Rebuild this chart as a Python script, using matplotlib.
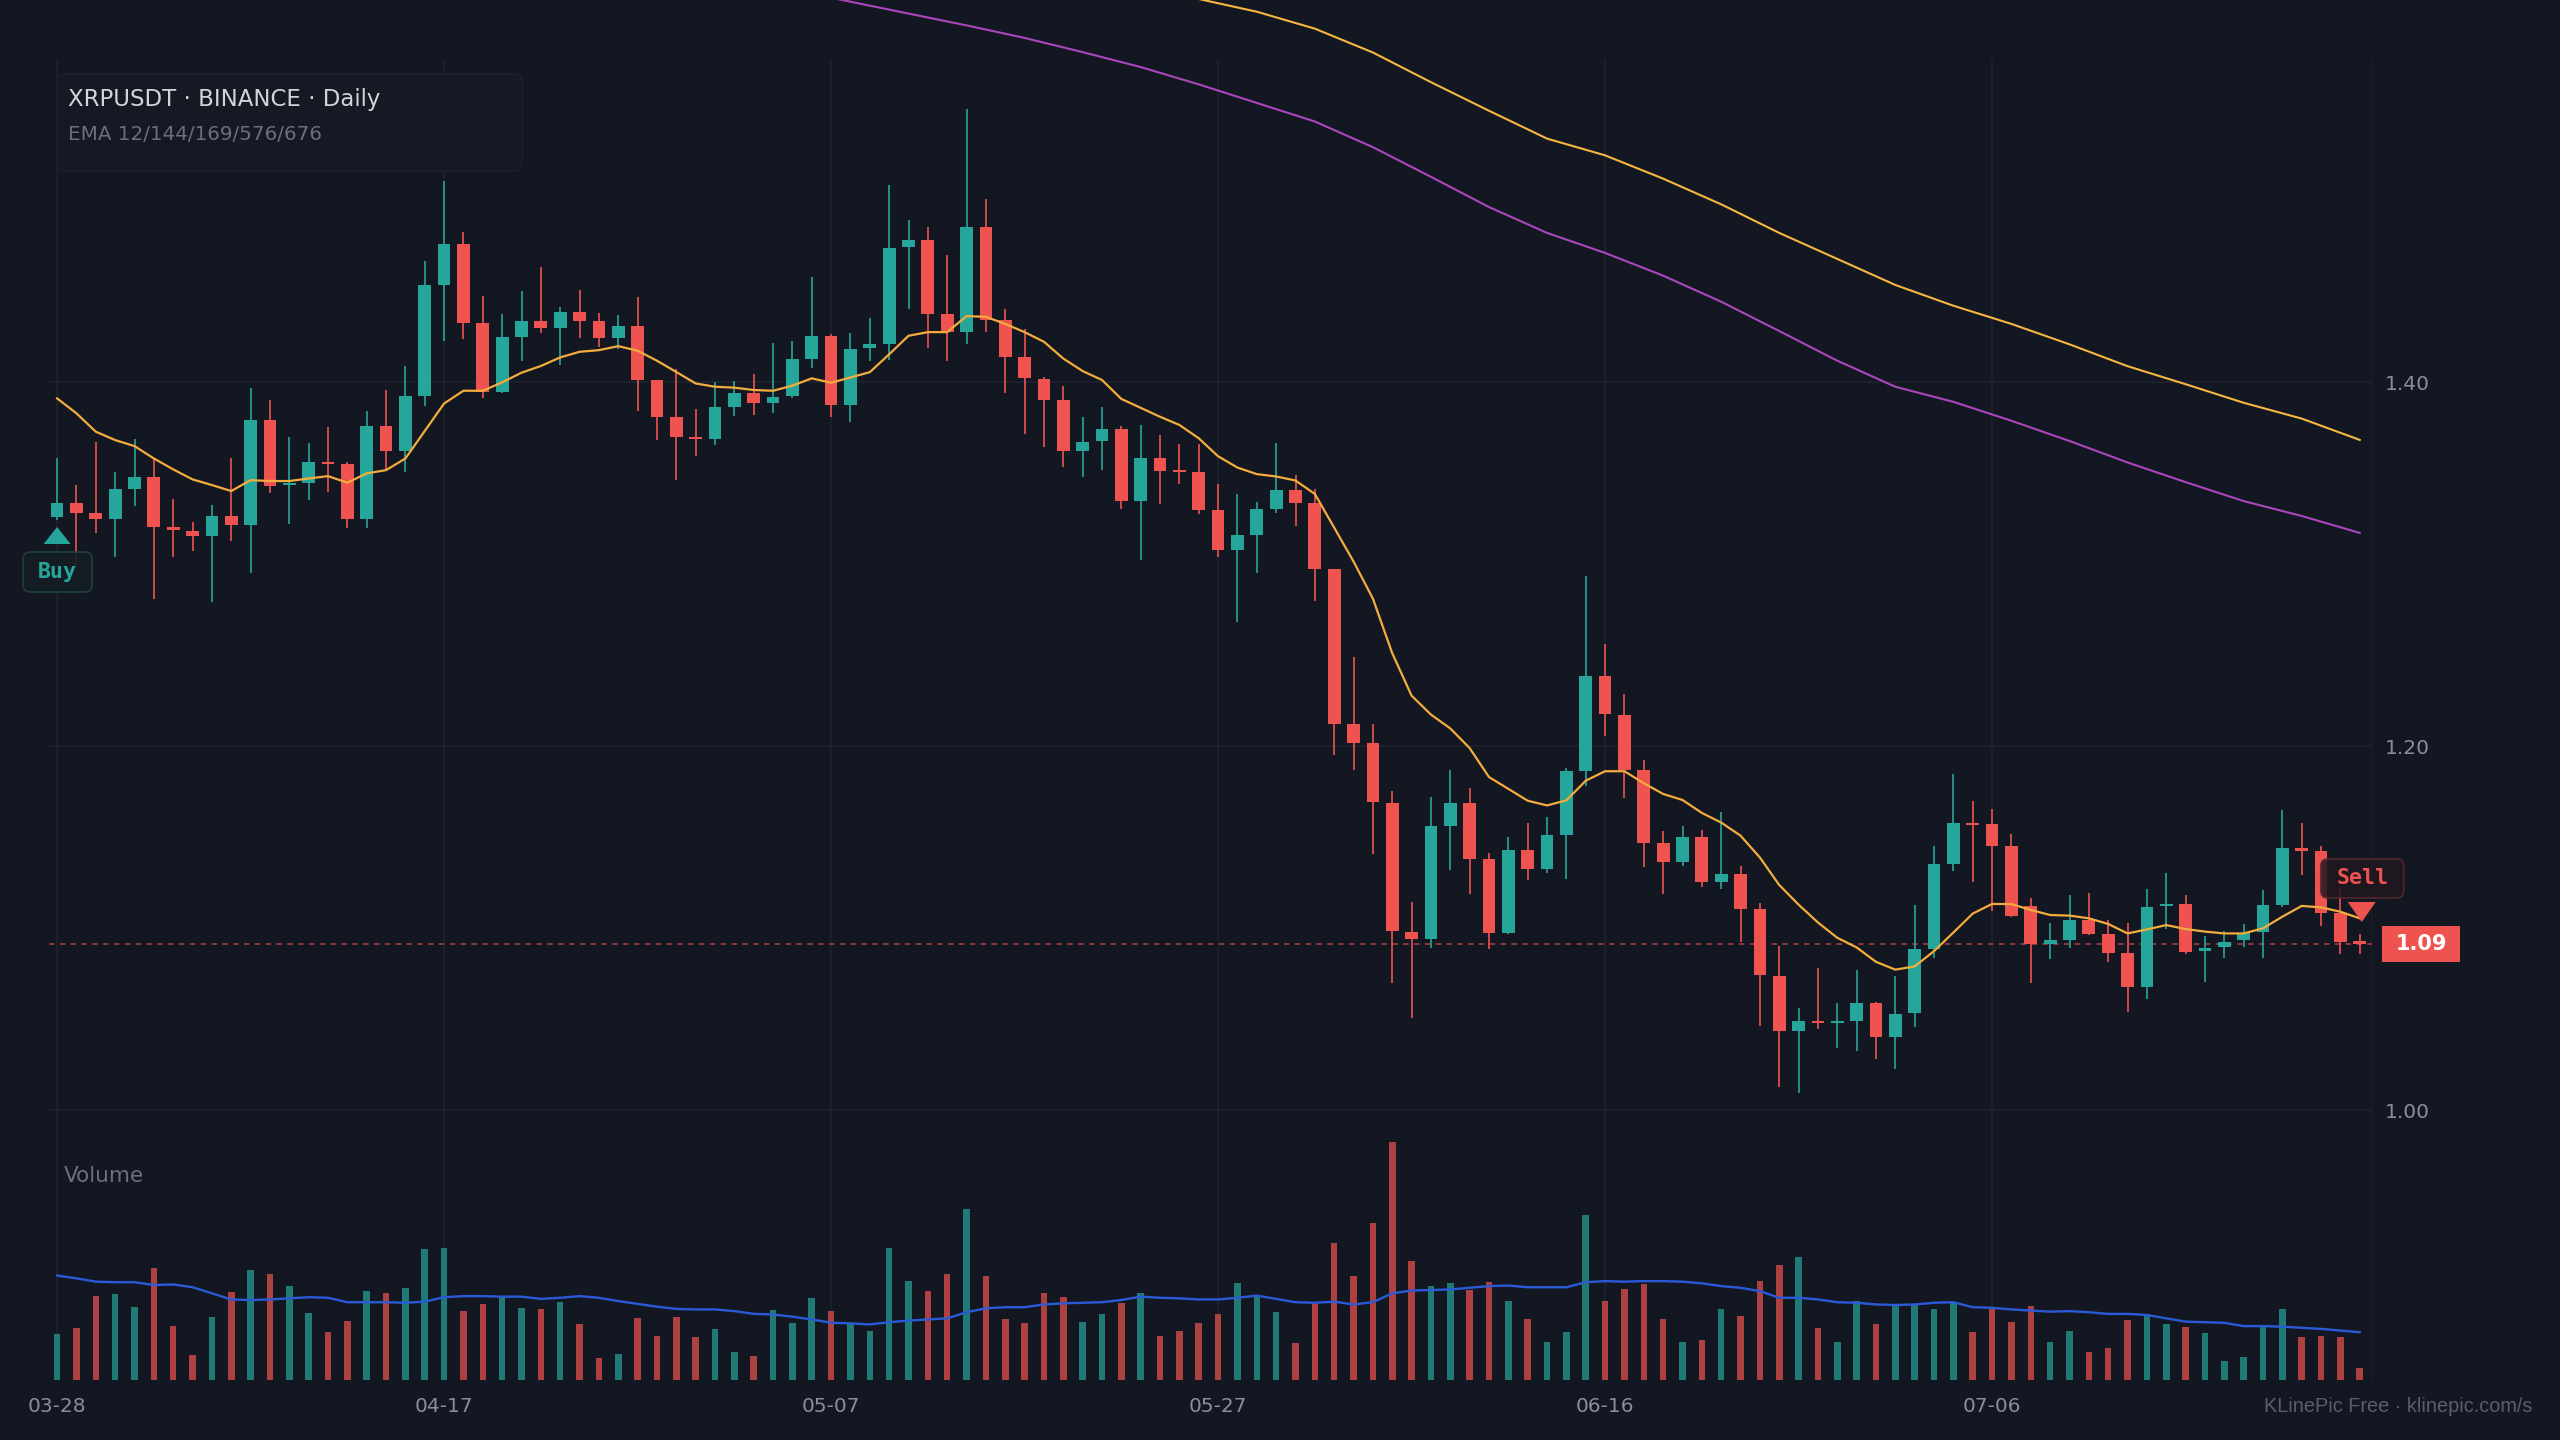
import numpy as np
import matplotlib
matplotlib.use("Agg")
import matplotlib.pyplot as plt
import matplotlib.transforms as mtransforms
from matplotlib.patches import FancyBboxPatch, Polygon, Rectangle

# ---- data (XRPUSDT daily, 03-28 .. 07-25) ----
date_labels = ["03-28", "04-17", "05-07", "05-27", "06-16", "07-06"]
date_days = [0, 20, 40, 60, 80, 100]
price_ticks = [1.00, 1.20, 1.40]

opens = [1.3260, 1.3333, 1.3278, 1.3245, 1.3412, 1.3480, 1.3201, 1.3183, 1.3156, 1.3266,
         1.3214, 1.3789, 1.3432, 1.3443, 1.3560, 1.3549, 1.3249, 1.3758, 1.3621, 1.3925,
         1.4532, 1.4758, 1.4326, 1.3947, 1.4249, 1.4335, 1.4298, 1.4386, 1.4333, 1.4241,
         1.4309, 1.4011, 1.3809, 1.3696, 1.3685, 1.3863, 1.3937, 1.3882, 1.3923, 1.4128,
         1.4251, 1.3871, 1.4188, 1.4209, 1.4741, 1.4778, 1.4372, 1.4276, 1.4853, 1.4343,
         1.4136, 1.4019, 1.3903, 1.3619, 1.3674, 1.3740, 1.3348, 1.3583, 1.3511, 1.3505,
         1.3295, 1.3079, 1.3159, 1.3303, 1.3409, 1.3333, 1.2975, 1.2119, 1.2015, 1.1689,
         1.0979, 1.0940, 1.1561, 1.1685, 1.1380, 1.0974, 1.1430, 1.1326, 1.1511, 1.1863,
         1.2384, 1.2173, 1.1869, 1.1466, 1.1363, 1.1500, 1.1253, 1.1296, 1.1104, 1.0737,
         1.0437, 1.0490, 1.0478, 1.0488, 1.0590, 1.0403, 1.0535, 1.0884, 1.1351, 1.1572,
         1.1574, 1.1453, 1.1122, 1.0911, 1.0937, 1.1047, 1.0968, 1.0862, 1.0679, 1.1123,
         1.1133, 1.0876, 1.0898, 1.0933, 1.0981, 1.1125, 1.1438, 1.1424, 1.1081, 1.0922]
highs = [1.3584, 1.3434, 1.3668, 1.3503, 1.3685, 1.3575, 1.3357, 1.3229, 1.3322, 1.3580,
         1.3965, 1.3901, 1.3698, 1.3663, 1.3754, 1.3560, 1.3840, 1.3956, 1.4087, 1.4666,
         1.5102, 1.4825, 1.4472, 1.4371, 1.4501, 1.4630, 1.4410, 1.4505, 1.4377, 1.4368,
         1.4468, 1.4011, 1.4069, 1.3850, 1.4001, 1.4005, 1.4044, 1.4212, 1.4223, 1.4575,
         1.4262, 1.4271, 1.4352, 1.5084, 1.4888, 1.4849, 1.4696, 1.5500, 1.5006, 1.4399,
         1.4293, 1.4025, 1.3980, 1.3809, 1.3864, 1.3760, 1.3764, 1.3711, 1.3658, 1.3658,
         1.3440, 1.3387, 1.3342, 1.3665, 1.3487, 1.3411, 1.2975, 1.2492, 1.2119, 1.1754,
         1.1146, 1.1721, 1.1869, 1.1771, 1.1413, 1.1500, 1.1580, 1.1613, 1.1880, 1.2933,
         1.2560, 1.2286, 1.1924, 1.1531, 1.1561, 1.1537, 1.1639, 1.1339, 1.1139, 1.0900,
         1.0560, 1.0780, 1.0590, 1.0770, 1.0596, 1.0737, 1.1125, 1.1453, 1.1845, 1.1698,
         1.1653, 1.1515, 1.1167, 1.1030, 1.1184, 1.1195, 1.1045, 1.1030, 1.1213, 1.1301,
         1.1182, 1.0959, 1.0984, 1.1021, 1.1210, 1.1649, 1.1578, 1.1451, 1.1219, 1.0968]
lows = [1.3242, 1.2978, 1.3168, 1.3040, 1.3318, 1.2806, 1.3036, 1.3071, 1.2789, 1.3126,
        1.2952, 1.3392, 1.3222, 1.3351, 1.3397, 1.3196, 1.3196, 1.3516, 1.3507, 1.3868,
        1.4227, 1.4238, 1.3910, 1.3937, 1.4117, 1.4271, 1.4093, 1.4243, 1.4190, 1.4181,
        1.3840, 1.3681, 1.3461, 1.3595, 1.3654, 1.3815, 1.3817, 1.3831, 1.3910, 1.4078,
        1.3806, 1.3782, 1.4117, 1.4123, 1.4403, 1.4188, 1.4117, 1.4211, 1.4276, 1.3942,
        1.3717, 1.3642, 1.3534, 1.3479, 1.3515, 1.3305, 1.3020, 1.3328, 1.3438, 1.3275,
        1.3038, 1.2681, 1.2951, 1.3283, 1.3211, 1.2797, 1.1950, 1.1871, 1.1409, 1.0696,
        1.0505, 1.0892, 1.1322, 1.1189, 1.0887, 1.0968, 1.1265, 1.1304, 1.1272, 1.1782,
        1.2058, 1.1717, 1.1335, 1.1188, 1.1343, 1.1227, 1.1217, 1.0923, 1.0462, 1.0125,
        1.0095, 1.0446, 1.0339, 1.0325, 1.0280, 1.0225, 1.0456, 1.0835, 1.1315, 1.1251,
        1.1096, 1.1060, 1.0697, 1.0829, 1.0893, 1.0962, 1.0814, 1.0538, 1.0613, 1.0993,
        1.0856, 1.0702, 1.0838, 1.0897, 1.0834, 1.1117, 1.1292, 1.1012, 1.0856, 1.0856]
closes = [1.3333, 1.3282, 1.3245, 1.3410, 1.3480, 1.3205, 1.3187, 1.3156, 1.3264, 1.3216,
          1.3789, 1.3430, 1.3439, 1.3558, 1.3549, 1.3249, 1.3758, 1.3621, 1.3923, 1.4532,
          1.4758, 1.4326, 1.3947, 1.4245, 1.4335, 1.4298, 1.4386, 1.4337, 1.4241, 1.4307,
          1.4011, 1.3809, 1.3696, 1.3688, 1.3861, 1.3939, 1.3882, 1.3919, 1.4128, 1.4251,
          1.3871, 1.4183, 1.4207, 1.4735, 1.4778, 1.4374, 1.4276, 1.4853, 1.4343, 1.4138,
          1.4021, 1.3903, 1.3619, 1.3672, 1.3740, 1.3348, 1.3583, 1.3513, 1.3503, 1.3295,
          1.3079, 1.3158, 1.3303, 1.3409, 1.3333, 1.2975, 1.2119, 1.2017, 1.1691, 1.0983,
          1.0940, 1.1559, 1.1685, 1.1380, 1.0974, 1.1430, 1.1326, 1.1511, 1.1863, 1.2384,
          1.2178, 1.1869, 1.1468, 1.1363, 1.1500, 1.1251, 1.1296, 1.1106, 1.0741, 1.0437,
          1.0490, 1.0478, 1.0486, 1.0590, 1.0403, 1.0531, 1.0884, 1.1351, 1.1576, 1.1565,
          1.1453, 1.1069, 1.0911, 1.0933, 1.1047, 1.0970, 1.0862, 1.0679, 1.1118, 1.1133,
          1.0871, 1.0889, 1.0926, 1.0975, 1.1125, 1.1438, 1.1426, 1.1081, 1.0922, 1.0915]

# volume in millions (no scale shown on the chart)
volumes = [82, 93, 152, 154, 132, 202, 98, 45, 113, 158,
           198, 190, 170, 121, 86, 107, 160, 156, 166, 236,
           237, 125, 137, 151, 129, 127, 140, 100, 40, 46,
           111, 80, 113, 77, 91, 50, 44, 126, 103, 148,
           125, 101, 88, 237, 179, 160, 190, 308, 187, 109,
           103, 156, 149, 104, 118, 139, 156, 80, 88, 102,
           118, 174, 152, 122, 67, 137, 246, 188, 282, 428,
           214, 170, 174, 162, 176, 143, 110, 68, 86, 297,
           143, 163, 173, 110, 68, 72, 127, 115, 179, 207,
           221, 93, 69, 143, 101, 134, 136, 128, 138, 86,
           127, 105, 134, 69, 88, 50, 58, 108, 119, 100,
           95, 84, 34, 41, 98, 128, 77, 79, 77, 22]
volume_ma = [188, 183, 177, 176, 176, 171, 172, 167, 156, 145,
             144, 145, 147, 149, 148, 140, 140, 140, 139, 141,
             149, 151, 151, 150, 150, 146, 148, 151, 148, 142,
             137, 132, 128, 127, 127, 124, 119, 118, 114, 109,
             103, 102, 100, 104, 107, 109, 111, 122, 129, 131,
             131, 136, 138, 139, 140, 144, 150, 148, 147, 145,
             145, 148, 152, 146, 140, 139, 141, 136, 140, 156,
             161, 162, 163, 166, 169, 170, 167, 167, 167, 176,
             178, 177, 178, 178, 177, 174, 169, 166, 160, 148,
             148, 145, 140, 139, 136, 135, 136, 139, 140, 131,
             130, 127, 125, 123, 124, 122, 119, 119, 117, 111,
             105, 104, 103, 97, 97, 96, 94, 92, 89, 86]

ema12 = [1.3910, 1.3828, 1.3727, 1.3681, 1.3648, 1.3580, 1.3520, 1.3465, 1.3434, 1.3401,
         1.3461, 1.3456, 1.3456, 1.3470, 1.3483, 1.3447, 1.3498, 1.3516, 1.3580, 1.3731,
         1.3882, 1.3952, 1.3952, 1.3998, 1.4051, 1.4088, 1.4135, 1.4166, 1.4175, 1.4197,
         1.4172, 1.4117, 1.4055, 1.3992, 1.3974, 1.3969, 1.3956, 1.3952, 1.3980, 1.4020,
         1.3996, 1.4025, 1.4054, 1.4152, 1.4254, 1.4274, 1.4274, 1.4362, 1.4358, 1.4319,
         1.4274, 1.4221, 1.4129, 1.4060, 1.4011, 1.3907, 1.3858, 1.3809, 1.3764, 1.3691,
         1.3592, 1.3530, 1.3494, 1.3481, 1.3459, 1.3385, 1.3200, 1.3014, 1.2810, 1.2510,
         1.2277, 1.2173, 1.2097, 1.1989, 1.1830, 1.1765, 1.1700, 1.1674, 1.1702, 1.1810,
         1.1862, 1.1862, 1.1796, 1.1737, 1.1704, 1.1633, 1.1580, 1.1508, 1.1388, 1.1237,
         1.1129, 1.1031, 1.0947, 1.0894, 1.0815, 1.0772, 1.0790, 1.0874, 1.0976, 1.1080,
         1.1133, 1.1132, 1.1100, 1.1072, 1.1069, 1.1054, 1.1023, 1.0971, 1.0993, 1.1017,
         1.0995, 1.0981, 1.0971, 1.0971, 1.0999, 1.1063, 1.1122, 1.1114, 1.1090, 1.1054]

# the two slow EMAs that come into view (read every 3 days)
ema144_days = [38, 41, 44, 47, 50, 53, 56, 59, 62, 65, 68, 71, 74, 77, 80, 83, 86, 89,
               92, 95, 98, 101, 104, 107, 110, 113, 116, 119]
ema144 = [1.6155, 1.6089, 1.6024, 1.5959, 1.5890, 1.5812, 1.5730, 1.5635, 1.5533, 1.5431,
          1.5290, 1.5127, 1.4961, 1.4819, 1.4709, 1.4584, 1.4441, 1.4280, 1.4117, 1.3974,
          1.3891, 1.3787, 1.3676, 1.3558, 1.3450, 1.3346, 1.3264, 1.3171]
ema169_days = [56, 59, 62, 65, 68, 71, 74, 77, 80, 83, 86, 89, 92, 95, 98, 101, 104,
               107, 110, 113, 116, 119]
ema169 = [1.6180, 1.6104, 1.6034, 1.5941, 1.5810, 1.5647, 1.5490, 1.5337, 1.5245, 1.5117,
          1.4976, 1.4819, 1.4676, 1.4533, 1.4419, 1.4319, 1.4207, 1.4087, 1.3988, 1.3886,
          1.3799, 1.3682]

buy_day = 0
sell_day = 119

# ---- style ----
BG = "#131722"
GRID = "#1f232e"
UP = "#26a69a"
DOWN = "#ef5350"
LABEL = "#8a8e9a"

W, H = 2560, 1440
fig = plt.figure(figsize=(25.6, 14.4), dpi=100, facecolor=BG)

left_px, right_px = 49, 2372
day0_px, step_px = 57.1, 19.35
xlim = ((left_px - day0_px) / step_px, (right_px - day0_px) / step_px)

ax = fig.add_axes([left_px / W, 1 - 1130 / H, (right_px - left_px) / W, 1130 / H])
axv = fig.add_axes([left_px / W, 60 / H, (right_px - left_px) / W, 250 / H])
for a in (ax, axv):
    a.set_facecolor("none")
    a.set_xlim(*xlim)
    for s in a.spines.values():
        s.set_visible(False)
ax.set_ylim(0.98912, 1.60984)
axv.set_ylim(0, 450)

# grid
top_frac = 1 - 61 / 1130
for d in date_days + [xlim[1]]:
    ax.axvline(d, ymin=0, ymax=top_frac, color=GRID, lw=1.2, zorder=0)
    axv.axvline(d, color=GRID, lw=1.2, zorder=0)
for p in price_ticks:
    ax.axhline(p, color=GRID, lw=1.2, zorder=0)

days = np.arange(len(closes))
o = np.array(opens)
c = np.array(closes)
up = c >= o
colors = np.where(up, UP, DOWN)

# candles
ax.vlines(days, lows, highs, colors=colors, lw=1.2, zorder=3)
body_h = np.maximum(np.abs(c - o), 0.0012)
ax.bar(days, body_h, bottom=np.minimum(o, c), width=0.66, color=colors, lw=0, zorder=4)

# EMAs
ax.plot(ema144_days, ema144, color="#ab47bc", lw=1.5, zorder=2)
ax.plot(ema169_days, ema169, color="#f6b740", lw=1.5, zorder=2)
ax.plot(days, ema12, color="#f4ac3c", lw=1.6, zorder=5)

# last price line + tag
last = closes[-1]
ax.axhline(last, color=DOWN, alpha=0.6, lw=1.3, ls=(0, (3, 3)), zorder=1)
blend = mtransforms.blended_transform_factory(ax.transAxes, ax.transData)
tag_h = 36 / 1820.5
ax.add_patch(Rectangle((1.0043, last - tag_h / 2), 78 / 2323, tag_h, transform=blend,
                       facecolor=DOWN, edgecolor="none", clip_on=False, zorder=6))
ax.text(1.0043 + 39 / 2323, last, f"{last:.2f}", transform=blend, ha="center",
        va="center", color="white", fontsize=15, fontweight="bold", zorder=7)

# price axis labels
ax.yaxis.tick_right()
ax.set_yticks(price_ticks)
ax.set_yticklabels([f"{p:.2f}" for p in price_ticks])
ax.tick_params(axis="y", length=0, pad=9, labelsize=14.5, labelcolor=LABEL)
ax.set_xticks([])

# volume
vol_colors = np.where(up, "#207b76", "#ad4142")
axv.bar(days, volumes, width=0.34, color=vol_colors, lw=0, zorder=2)
axv.plot(days, volume_ma, color="#2a5ad8", lw=1.7, zorder=3)
axv.set_yticks([])
axv.set_xticks(date_days)
axv.set_xticklabels(date_labels)
axv.tick_params(axis="x", length=0, pad=12, labelsize=14.5, labelcolor=LABEL)
fig.text(64 / W, 1 - 1182 / H, "Volume", fontsize=15.5, color="#6c707b", va="baseline")


# buy / sell markers, drawn in inches relative to the candle
def anchored(day, price):
    return fig.dpi_scale_trans + mtransforms.ScaledTranslation(day, price, ax.transData)


tb = anchored(buy_day, lows[buy_day])
ax.add_patch(Polygon([(0.0, -0.07), (-0.135, -0.24), (0.135, -0.24)], closed=True,
                     transform=tb, facecolor=UP, edgecolor="none", clip_on=False, zorder=7))
ax.add_patch(FancyBboxPatch((-0.34, -0.72), 0.69, 0.40,
                            boxstyle="round,pad=0,rounding_size=0.07", transform=tb,
                            facecolor="#131c24", edgecolor="#1f4440", alpha=0.9, lw=1.2,
                            clip_on=False, zorder=7))
ax.text(0.005, -0.52, "Buy", transform=tb, ha="center", va="center", color=UP,
        fontsize=15.5, fontweight="bold", family="DejaVu Sans Mono", zorder=8, clip_on=False)

ts = anchored(sell_day, highs[sell_day])
ax.add_patch(Polygon([(0.02, 0.12), (-0.12, 0.32), (0.16, 0.32)], closed=True,
                     transform=ts, facecolor=DOWN, edgecolor="none", clip_on=False, zorder=7))
ax.add_patch(FancyBboxPatch((-0.39, 0.36), 0.83, 0.39,
                            boxstyle="round,pad=0,rounding_size=0.07", transform=ts,
                            facecolor="#22181f", edgecolor="#5a2b30", alpha=0.85, lw=1.2,
                            clip_on=False, zorder=7))
ax.text(0.025, 0.555, "Sell", transform=ts, ha="center", va="center", color=DOWN,
        fontsize=15.5, fontweight="bold", family="DejaVu Sans Mono", zorder=8, clip_on=False)

# header box
pix = mtransforms.IdentityTransform()
fig.patches.append(FancyBboxPatch((57, H - 171), 465, 97,
                                  boxstyle="round,pad=0,rounding_size=8", transform=pix,
                                  facecolor="#151923", edgecolor="#1c202a", lw=1.2,
                                  figure=fig, zorder=5))
fig.text(68 / W, 1 - 105.7 / H, "XRPUSDT · BINANCE · Daily", color="#d1d4dc",
         fontsize=16.5, va="baseline", zorder=6)
fig.text(68 / W, 1 - 140 / H, "EMA 12/144/169/576/676", color="#6b6f7a",
         fontsize=14.3, va="baseline", zorder=6)

# watermark
fig.text(2532 / W, 1 - 1412 / H, "KLinePic Free · klinepic.com/s", color="#5a5e6a",
         fontsize=14.3, family="Liberation Sans", ha="right", va="baseline")

fig.savefig("out.png", dpi=100, facecolor=BG)
